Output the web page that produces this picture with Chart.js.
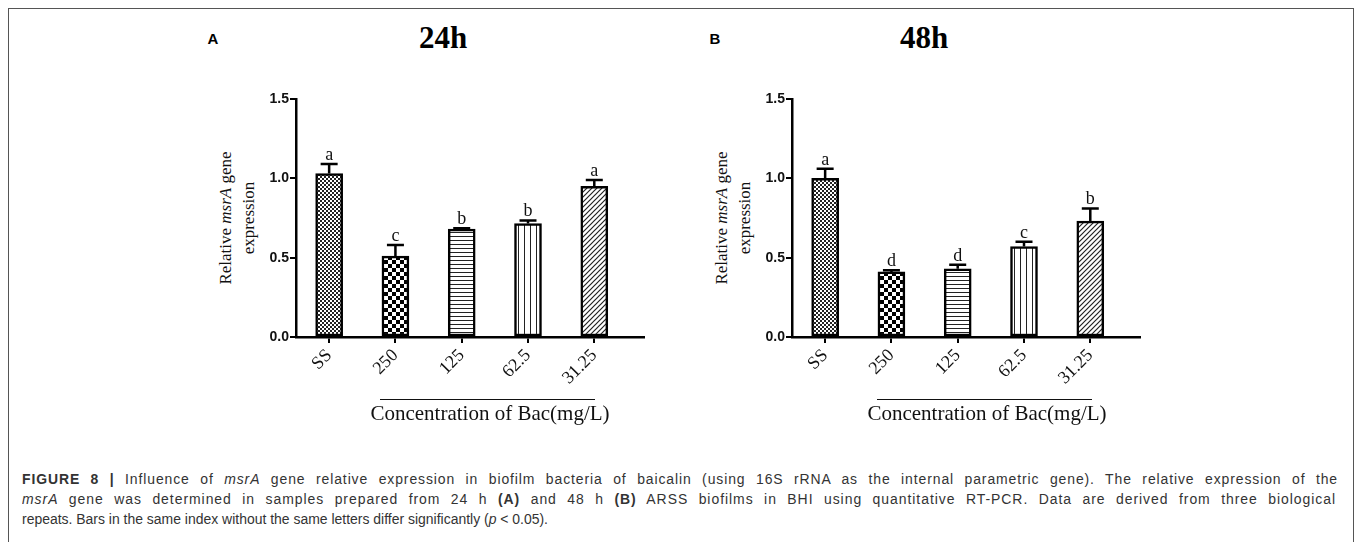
<!DOCTYPE html>
<html>
<head>
<meta charset="utf-8">
<script src="https://cdn.jsdelivr.net/npm/chart.js@4.4.1/dist/chart.umd.min.js"></script>
<style>
  html, body { margin: 0; padding: 0; background: #fff; }
  body { width: 1358px; height: 542px; position: relative; overflow: hidden; }
  .frame { position: absolute; left: 8px; top: 8px; width: 1344px; height: 600px; border: 1.5px solid #555; }
  .panel-letter { position: absolute; font: bold 15px "Liberation Sans", Arial, sans-serif; color: #000; transform: translate(-50%, -50%); }
  .panel-title { position: absolute; font: bold 31px "Liberation Serif", "Times New Roman", serif; color: #000; transform: translate(-50%, -50%); white-space: nowrap; }
  .chart-box { position: absolute; width: 460px; height: 360px; }
  .ylab { position: absolute; font: 17px "Liberation Serif", "Times New Roman", serif; color: #111; line-height: 23px;
          text-align: center; white-space: nowrap; transform: translate(-50%, -50%) rotate(-90deg); }
  .xline { position: absolute; height: 0; border-top: 1.6px solid #111; }
  .xlab { position: absolute; font: 21px "Liberation Serif", "Times New Roman", serif; color: #111; white-space: nowrap; transform: translate(-50%, -50%); }
  .caption { position: absolute; left: 22px; font: 14px "Liberation Sans", Arial, sans-serif; color: #333; white-space: nowrap; transform-origin: 0 50%; }
</style>
</head>
<body>
<div class="frame"></div>

<div class="panel-letter" style="left:213px; top:38px;">A</div>
<div class="panel-title" style="left:443px; top:38px;">24h</div>
<div class="panel-letter" style="left:715px; top:38px;">B</div>
<div class="panel-title" style="left:924px; top:38px;">48h</div>

<div class="ylab" style="left:237px; top:218px;">Relative <i>msrA</i> gene<br>expression</div>
<div class="ylab" style="left:733px; top:218px;">Relative <i>msrA</i> gene<br>expression</div>

<div class="chart-box" style="left:200px; top:60px;"><canvas id="chartA"></canvas></div>
<div class="chart-box" style="left:696px; top:60px;"><canvas id="chartB"></canvas></div>

<div class="xline" style="left:380px; top:399px; width:215px;"></div>
<div class="xlab" style="left:490px; top:413px;">Concentration of Bac(mg/L)</div>
<div class="xline" style="left:877px; top:399px; width:215px;"></div>
<div class="xlab" style="left:987px; top:413px;">Concentration of Bac(mg/L)</div>

<div class="caption" data-w="1316" style="top:471px;"><b>FIGURE 8 |</b> Influence of <i>msrA</i> gene relative expression in biofilm bacteria of baicalin (using 16S rRNA as the internal parametric gene). The relative expression of the</div>
<div class="caption" data-w="1314" style="top:491px;"><i>msrA</i> gene was determined in samples prepared from 24 h <b>(A)</b> and 48 h <b>(B)</b> ARSS biofilms in BHI using quantitative RT-PCR. Data are derived from three biological</div>
<div class="caption" id="capLast" style="top:511px;">repeats. Bars in the same index without the same letters differ significantly (<i>p</i> &lt; 0.05).</div>

<script>
const categories = ['SS', '250', '125', '62.5', '31.25'];

const valuesA = [1.03, 0.51, 0.68, 0.715, 0.95];
const errorsA = [0.06, 0.07, 0.005, 0.02, 0.04];
const lettersA = ['a', 'c', 'b', 'b', 'a'];

const valuesB = [1.00, 0.41, 0.43, 0.57, 0.73];
const errorsB = [0.06, 0.01, 0.025, 0.03, 0.08];
const lettersB = ['a', 'd', 'd', 'c', 'b'];

const yTicks = [0, 0.5, 1.0, 1.5];

// caption: last line sets the squeeze, full lines are justified (half words, half letters)
const lastLine = document.getElementById('capLast');
const squeeze = 526 / lastLine.getBoundingClientRect().width;
document.querySelectorAll('.caption').forEach(el => {
    if (el.dataset.w) {
        const natural = el.getBoundingClientRect().width;
        const extra = parseFloat(el.dataset.w) / squeeze - natural;
        const txt = el.textContent;
        const spaces = txt.split(' ').length - 1;
        el.style.wordSpacing = (0.5 * extra / spaces) + 'px';
        el.style.letterSpacing = (0.5 * extra / txt.length) + 'px';
    }
    el.style.transform = 'scaleX(' + squeeze + ')';
});

function makePattern(kind) {
    const c = document.createElement('canvas');
    const g = c.getContext('2d');
    let s = 4;
    if (kind === 'checkSmall') {
        c.width = c.height = 4;
        g.fillStyle = '#fff'; g.fillRect(0, 0, 4, 4);
        g.fillStyle = '#222';
        g.fillRect(0, 0, 2, 2); g.fillRect(2, 2, 2, 2);
    } else if (kind === 'checkBig') {
        c.width = c.height = 8;
        g.fillStyle = '#fff'; g.fillRect(0, 0, 8, 8);
        g.fillStyle = '#000';
        g.fillRect(0, 0, 4, 4); g.fillRect(4, 4, 4, 4);
    } else if (kind === 'horiz') {
        c.width = 4; c.height = 4;
        g.fillStyle = '#fff'; g.fillRect(0, 0, 4, 4);
        g.fillStyle = '#222'; g.fillRect(0, 0, 4, 1);
    } else if (kind === 'vert') {
        c.width = 6; c.height = 4;
        g.fillStyle = '#fff'; g.fillRect(0, 0, 6, 4);
        g.fillStyle = '#222'; g.fillRect(0, 0, 1, 4);
    } else {
        s = 5;
        c.width = c.height = s;
        g.fillStyle = '#fff'; g.fillRect(0, 0, s, s);
        g.strokeStyle = '#222'; g.lineWidth = 1.2;
        g.beginPath();
        g.moveTo(-1, s + 1); g.lineTo(s + 1, -1);
        g.moveTo(-1, 1); g.lineTo(1, -1);
        g.moveTo(s - 1, s + 1); g.lineTo(s + 1, s - 1);
        g.stroke();
    }
    return g.createPattern(c, 'repeat');
}

const patternKinds = ['checkSmall', 'checkBig', 'horiz', 'vert', 'diag'];

const errorLetters = {
    id: 'errorLetters',
    afterDatasetsDraw(chart, args, opts) {
        const { ctx, scales: { x, y } } = chart;
        ctx.save();
        opts.values.forEach((v, i) => {
            const px = x.getPixelForValue(i);
            const yBar = y.getPixelForValue(v);
            const yTop = y.getPixelForValue(v + opts.errors[i]);
            ctx.strokeStyle = '#000';
            ctx.lineWidth = 2.5;
            ctx.beginPath();
            ctx.moveTo(px, yBar);
            ctx.lineTo(px, yTop);
            ctx.moveTo(px - 8.5, yTop);
            ctx.lineTo(px + 8.5, yTop);
            ctx.stroke();
            ctx.fillStyle = '#111';
            ctx.font = '18px "Liberation Serif", "Times New Roman", serif';
            ctx.textAlign = 'center';
            ctx.textBaseline = 'alphabetic';
            ctx.fillText(opts.letters[i], px, yTop - 4);
        });
        ctx.restore();
    }
};

function buildChart(id, values, errors, letters) {
    const ctx = document.getElementById(id);
    return new Chart(ctx, {
        type: 'bar',
        data: {
            datasets: [{
                data: values.map((v, i) => ({ x: i, y: v })),
                backgroundColor: patternKinds.map(makePattern),
                borderColor: '#000',
                borderWidth: 2.5,
                borderSkipped: false,
                barThickness: 27
            }]
        },
        plugins: [errorLetters],
        options: {
            responsive: true,
            maintainAspectRatio: false,
            animation: false,
            layout: { padding: { top: 39, right: 16, left: 0, bottom: 0 } },
            plugins: {
                legend: { display: false },
                tooltip: { enabled: false },
                errorLetters: { values, errors, letters }
            },
            scales: {
                x: {
                    type: 'linear',
                    min: -0.5,
                    max: 4.75,
                    offset: false,
                    afterFit: s => { s.height = 83; },
                    grid: { offset: false, drawOnChartArea: false, drawTicks: true, tickLength: 6, lineWidth: 2, color: '#000' },
                    border: { display: true, width: 2.5, color: '#000' },
                    ticks: {
                        stepSize: 1,
                        includeBounds: false,
                        autoSkip: false,
                        minRotation: 45,
                        maxRotation: 45,
                        padding: 2,
                        color: '#111',
                        font: { family: '"Liberation Serif", "Times New Roman", serif', size: 18 },
                        callback: v => categories[v]
                    }
                },
                y: {
                    min: 0,
                    max: 1.5,
                    afterFit: s => { s.width = 96; },
                    afterBuildTicks: s => { s.ticks = yTicks.map(v => ({ value: v })); },
                    grid: { drawOnChartArea: false, drawTicks: true, tickLength: 6, lineWidth: 2, color: '#000' },
                    border: { display: true, width: 2.5, color: '#000' },
                    ticks: {
                        padding: 1,
                        color: '#111',
                        font: { family: '"Liberation Sans", Arial, sans-serif', size: 14, weight: 'bold' },
                        callback: v => v.toFixed(1)
                    }
                }
            }
        }
    });
}

buildChart('chartA', valuesA, errorsA, lettersA);
buildChart('chartB', valuesB, errorsB, lettersB);
</script>
</body>
</html>
